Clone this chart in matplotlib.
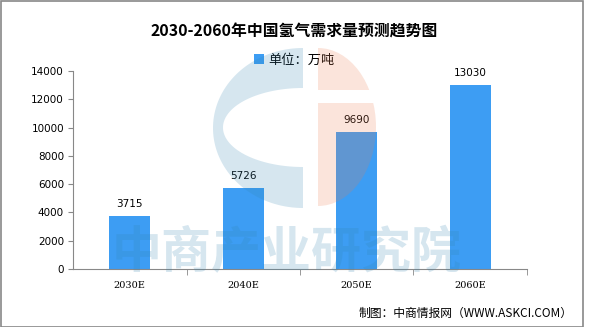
import matplotlib.pyplot as plt
from matplotlib import patches
import numpy as np

years = ['2030E', '2040E', '2050E', '2060E']
demand = [3715, 5726, 9690, 13030]
yticks = [0, 2000, 4000, 6000, 8000, 10000, 12000, 14000]

title = '2030-2060年中国氢气需求量预测趋势图'
unit = '单位：万吨'
source = '制图：中商情报网（WWW.ASKCI.COM）'

cjk = ['Noto Sans CJK SC', 'DejaVu Sans']
grey = '#888888'
bar_color = '#3d9df3'

W, H = 589, 327
fig = plt.figure(figsize=(W / 100, H / 100), dpi=100)

ax = fig.add_axes([73 / W, 58 / H, 454 / W, 198 / H])
x = np.arange(len(years))
ax.bar(x, demand, width=0.36, color=bar_color, label=unit, zorder=2)
ax.set_xlim(-0.5, len(years) - 0.5)
ax.set_ylim(0, 14000)

for xi, v in zip(x, demand):
    ax.annotate(str(v), (xi, v), xytext=(0, 7), textcoords='offset pixels',
                ha='center', va='bottom', fontsize=7.5)

for s in ['top', 'right']:
    ax.spines[s].set_visible(False)
for s in ['left', 'bottom']:
    ax.spines[s].set_color(grey)

ax.set_xticks(x)
ax.set_xticklabels(years, fontsize=7, family='DejaVu Serif')
ax.set_xticks(list(x + 0.5), minor=True)
ax.tick_params(axis='x', which='major', length=0, pad=9)
ax.tick_params(axis='x', which='minor', length=4, color=grey)
ax.set_yticks(yticks)
ax.tick_params(axis='y', length=3.5, color=grey, labelsize=7.5, pad=3)

leg = ax.legend(loc='center', bbox_to_anchor=(0.5, 1 - 60 / H),
                bbox_transform=fig.transFigure, frameon=False,
                handlelength=0.75, handleheight=0.75, handletextpad=0.3,
                prop={'family': cjk, 'size': 9.5})

fig.text(0.5, 1 - 32 / H, title, ha='center', va='center', fontsize=11.4,
         fontweight='bold', family=cjk)
fig.text(573 / W, 1 - 313 / H, source, ha='right', va='center', fontsize=8.5,
         family=cjk)

# watermark overlay in pixel coordinates
wm = fig.add_axes([0, 0, 1, 1], zorder=5)
wm.set_xlim(0, W)
wm.set_ylim(H, 0)
wm.axis('off')
wm.patch.set_alpha(0)

wm_blue = '#3284b1'
wm_peach = '#ed7b4d'
a = 0.2

t = np.linspace(np.pi / 2, 3 * np.pi / 2, 80)
outer = np.column_stack([303 + 90 * np.cos(t), 128 - 80 * np.sin(t)])
inner = np.column_stack([303 + 80 * np.cos(t[::-1]), 127.5 - 39.5 * np.sin(t[::-1])])
wm.add_patch(patches.Polygon(np.vstack([outer, inner]), closed=True,
                             facecolor=wm_blue, edgecolor='none', alpha=a))

for y0, y1 in [(40, 90), (103, 215)]:
    e = patches.Ellipse((318, 127), 116, 158, facecolor=wm_peach,
                        edgecolor='none', alpha=a)
    wm.add_patch(e)
    clip = patches.Rectangle((318, y0), 80, y1 - y0, transform=wm.transData)
    e.set_clip_path(clip)

wm.text(287, 254, '中商产业研究院', ha='center', va='center', fontsize=36,
        fontweight='bold', family=cjk, color=wm_blue, alpha=a)

fig.patches.append(patches.Rectangle((0.5 / W, 0.5 / H), 582.5 / W, 326 / H,
                                     transform=fig.transFigure, fill=False,
                                     edgecolor=grey, linewidth=1.2))

fig.savefig('out.png', dpi=100)
